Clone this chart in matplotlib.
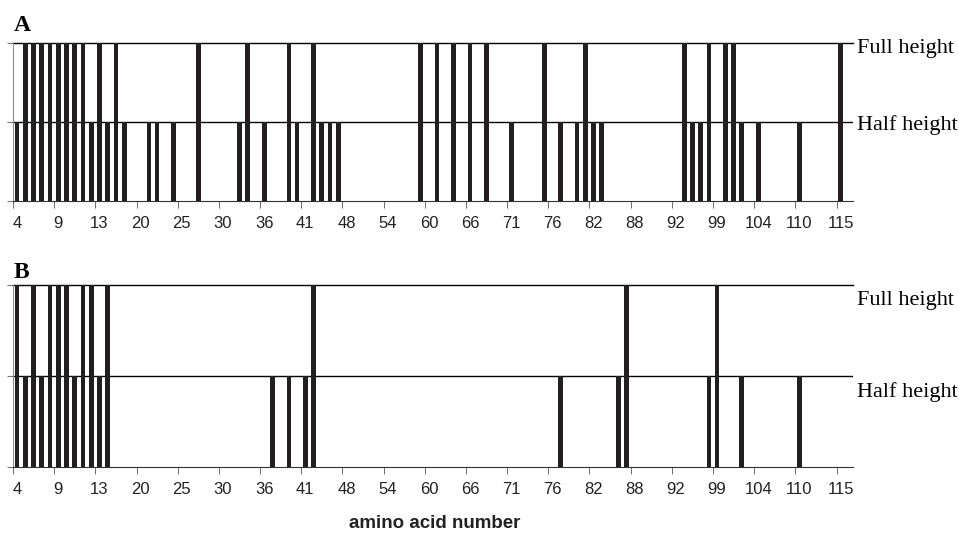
import numpy as np
import matplotlib
matplotlib.use("Agg")
import matplotlib.pyplot as plt

# category axis: 102 residues, every 5th one labelled
n_cat = 102
tick_labels = ['4', '9', '13', '20', '25', '30', '36', '41', '48', '54', '60',
               '66', '71', '76', '82', '88', '92', '99', '104', '110', '115']

# category indices of full / half height bars
a_full = [1, 2, 3, 4, 5, 6, 7, 8, 10, 12, 22, 28, 33, 36, 49, 51, 53, 55, 57,
          64, 69, 81, 84, 86, 87, 100]
a_half = [0, 9, 11, 13, 16, 17, 19, 27, 30, 34, 37, 38, 39, 60, 66, 68, 70, 71,
          82, 83, 88, 90, 95]
b_full = [0, 2, 4, 5, 6, 8, 9, 11, 36, 74, 85]
b_half = [1, 3, 7, 10, 31, 33, 35, 66, 73, 84, 88, 95]

W, H = 959, 534
bar_col = '#231f20'


def heights(full, half):
    h = np.zeros(n_cat)
    h[half] = 0.5
    h[full] = 1.0
    return h


def panel(rect, full, half):
    ax = fig.add_axes(rect)
    x = np.arange(n_cat)
    ax.bar(x, heights(full, half), width=0.57, color=bar_col, zorder=3)
    ax.set_xlim(-0.5, n_cat - 0.5)
    ax.set_ylim(0, 1)
    ax.axhline(0.5, color='black', lw=1.0, zorder=2)
    ax.axhline(1.0, color='black', lw=1.0, zorder=2, clip_on=False)
    for s in ['top', 'right']:
        ax.spines[s].set_visible(False)
    ax.spines['left'].set_color('#8c8c8c')
    ax.spines['bottom'].set_color('#333333')
    ax.set_yticks([0, 0.5, 1])
    ax.set_yticklabels([])
    ax.tick_params(axis='y', length=4, color='#777777')
    ax.set_xticks(np.arange(len(tick_labels)) * 5)
    ax.set_xticklabels(tick_labels, fontsize=12, family='Liberation Sans', color='#222222')
    ax.set_xticks(np.arange(len(tick_labels)) * 5 - 0.5, minor=True)
    ax.tick_params(axis='x', which='major', length=0, pad=10.5)
    ax.tick_params(axis='x', which='minor', length=5, color='#555555')
    return ax


fig = plt.figure(figsize=(W / 100, H / 100), dpi=100)
axA = panel([13 / W, 1 - 201 / H, 840 / W, 158 / H], a_full, a_half)
axB = panel([13 / W, 1 - 467 / H, 840 / W, 182 / H], b_full, b_half)

serif = 'Liberation Serif'
fig.text(14 / W, 1 - 31 / H, 'A', family=serif, weight='bold', fontsize=17, va='baseline')
fig.text(14 / W, 1 - 278 / H, 'B', family=serif, weight='bold', fontsize=17, va='baseline')

for txt, yb in [('Full height', 52.5), ('Half height', 130),
                ('Full height', 305), ('Half height', 397)]:
    fig.text(857 / W, 1 - yb / H, txt, family=serif, fontsize=16, va='baseline')

fig.text(435 / W, 1 - 523 / H, 'amino acid number', family='Liberation Sans',
         weight='bold', fontsize=13.5, ha='center', va='center', color='#222222')

fig.savefig('out.png', dpi=100)
